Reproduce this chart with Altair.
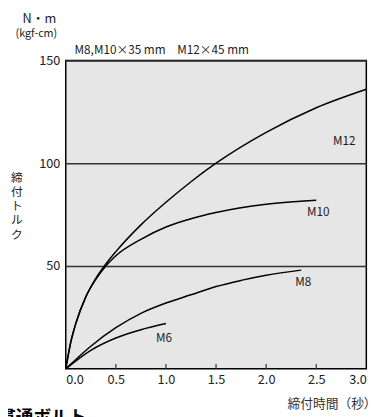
import altair as alt
import pandas as pd

FONT = "Noto Sans CJK JP"

m12_t = [0, 0.05, 0.1, 0.2, 0.3, 0.4, 0.5, 0.75, 1.0, 1.25, 1.5, 2.0, 2.5, 3.0]
m12_v = [0, 13, 22, 35, 44, 51, 57, 70, 81, 91, 100, 115, 127, 136]
m10_t = [0, 0.05, 0.1, 0.2, 0.3, 0.4, 0.5, 0.75, 1.0, 1.25, 1.5, 2.0, 2.5]
m10_v = [0, 13, 22, 35, 43.5, 50, 55, 63, 69, 73, 76, 80, 82]
m8_t = [0, 0.25, 0.5, 0.75, 1.0, 1.25, 1.5, 1.75, 2.0, 2.35]
m8_v = [0, 11, 20, 27, 32, 36, 40, 43, 45.5, 48]
m6_t = [0, 0.25, 0.5, 0.75, 1.0]
m6_v = [0, 9, 15, 19, 22]

label_names = ["M12", "M10", "M8", "M6"]
label_t = [2.78, 2.52, 2.37, 0.98]
label_v = [111, 76, 42, 15]

x_ticks = [0.5, 1.0, 1.5, 2.0, 2.5]

y_title_chars = ["締", "付", "ト", "ル", "ク"]

rows = []
for name, ts, vs in [("M12", m12_t, m12_v), ("M10", m10_t, m10_v),
                     ("M8", m8_t, m8_v), ("M6", m6_t, m6_v)]:
    for t, v in zip(ts, vs):
        rows.append({"series": name, "t": t, "v": v})
df = pd.DataFrame(rows)
labels = pd.DataFrame({"name": label_names, "t": label_t, "v": label_v})
ticks = pd.DataFrame({"t": x_ticks})

W, H = 307, 315

xs = alt.Scale(domain=[0, 3], nice=False)
ys = alt.Scale(domain=[0, 150], nice=False)

base = alt.Chart(df)

lines = base.mark_line(color="black", strokeWidth=1.5, interpolate="monotone").encode(
    x=alt.X("t:Q", scale=xs, axis=alt.Axis(
        values=[0, 0.5, 1.0, 1.5, 2.0, 2.5, 3.0], format=".1f", title=None,
        grid=False, domain=False, ticks=False, labelPadding=5,
        labelFont=FONT, labelFontSize=13, labelColor="#222")),
    y=alt.Y("v:Q", scale=ys, axis=alt.Axis(
        values=[50, 100, 150], title=None, grid=True, gridColor="#333",
        gridWidth=1.5, domain=False, ticks=False, labelPadding=6,
        labelFont=FONT, labelFontSize=13, labelColor="#222")),
    detail="series:N",
)

tick_marks = alt.Chart(ticks).mark_rule(color="#333", strokeWidth=1.2).encode(
    x=alt.X("t:Q", scale=xs),
    y=alt.value(H),
    y2=alt.value(H - 5),
)

curve_labels = alt.Chart(labels).mark_text(
    font=FONT, fontSize=12, color="#222"
).encode(x=alt.X("t:Q", scale=xs), y=alt.Y("v:Q", scale=ys), text="name:N")

def txt(s, x, y, size=12, align="center", weight="normal", color="#222"):
    kw = dict(font=FONT, fontSize=size, align=align, fontWeight=weight,
              color=color, baseline="middle")
    return alt.Chart(pd.DataFrame({"s": [s]})).mark_text(**kw).encode(
        x=alt.value(x), y=alt.value(y), text="s:N")

annos = [
    txt("N・m", -27, -42, size=13),
    txt("(kgf-cm)", -30, -27, size=11),
    txt("M8,M10×35 mm　M12×45 mm", 9, -11, size=12, align="left"),
    txt("締付時間（秒）", 272, 351, size=13, color="#333"),
    txt("貫通ボルト", -69, 365, size=18, align="left", weight="bold", color="black"),
]
for i, ch in enumerate(y_title_chars):
    annos.append(txt(ch, -50, 120 + i * 14.5, size=12))

chart = alt.layer(lines, tick_marks, curve_labels, *annos).properties(
    width=W, height=H,
    padding={"left": 59, "top": 49, "right": 16, "bottom": 60},
    autosize=alt.AutoSizeParams(type="none"),
).configure_view(fill="#e6e6e6", stroke="black", strokeWidth=1.5)

chart.save("out.html", embed_options={"renderer": "svg", "actions": False})
